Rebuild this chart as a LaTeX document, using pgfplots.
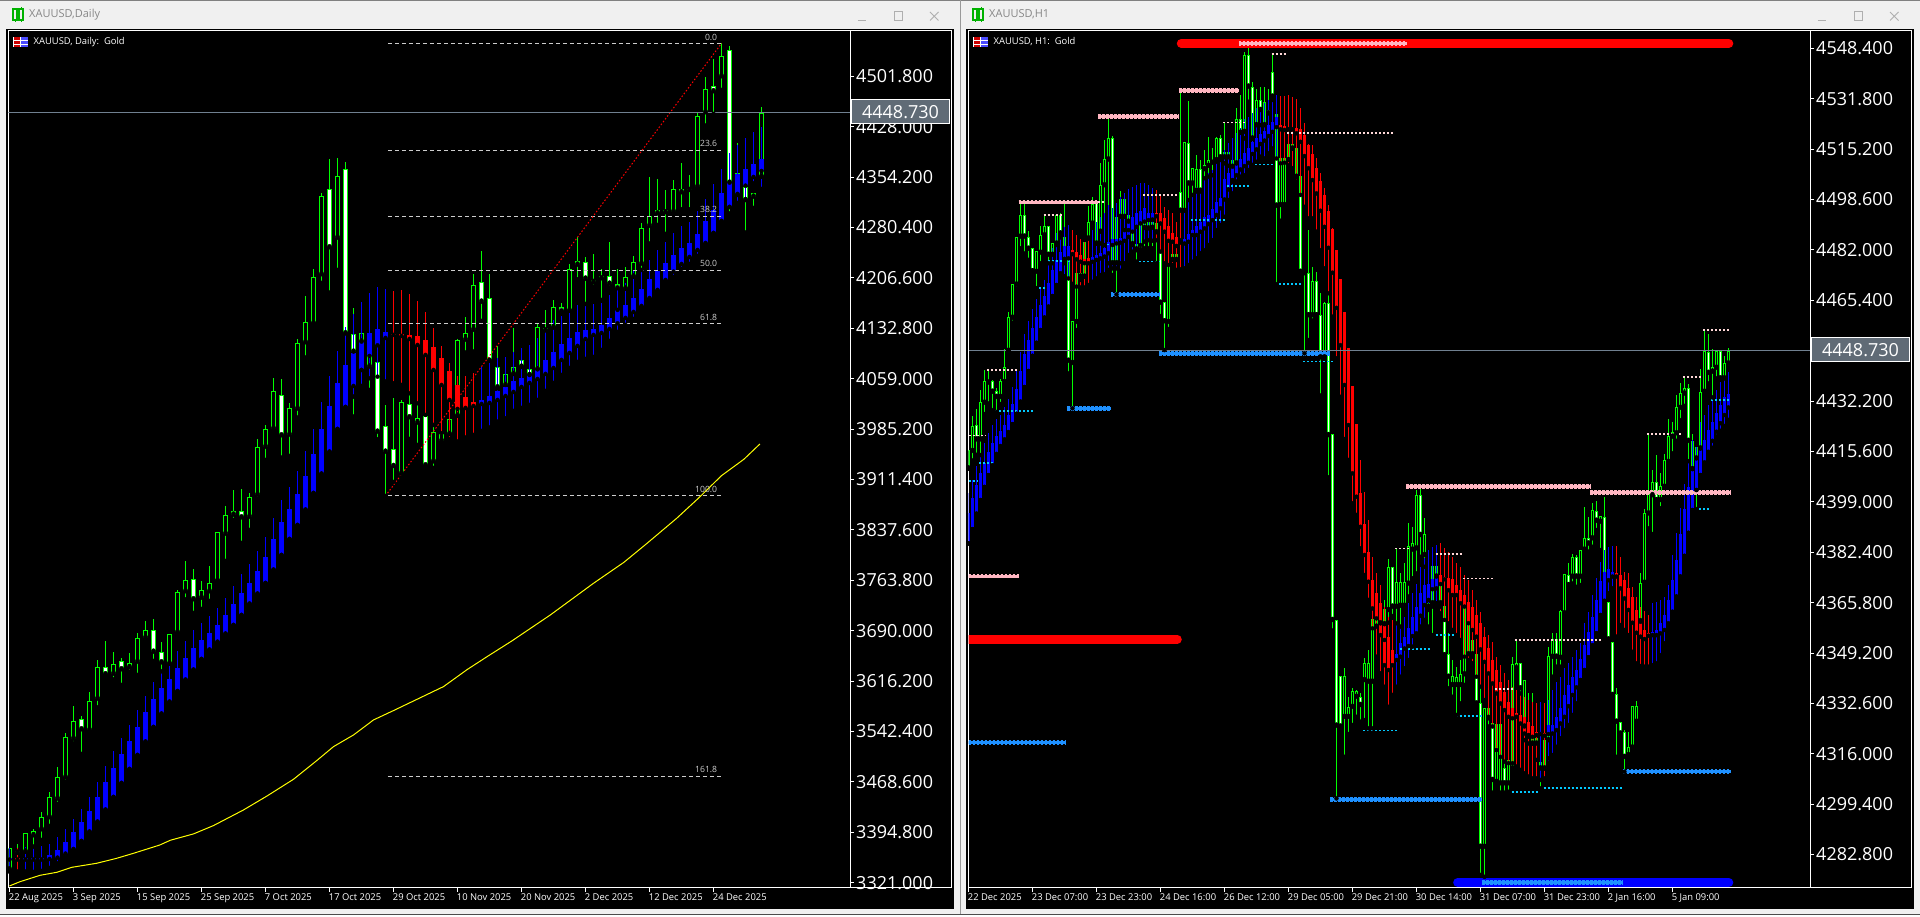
\documentclass[border=0pt]{standalone}
\usepackage{fontspec}
\setmainfont{Open Sans}
\usepackage{pgfplots}
\usepackage{pgfplotstable}
\pgfplotsset{compat=1.18}

\definecolor{mtgreen}{RGB}{0,255,0}
\definecolor{mtblue}{RGB}{0,0,255}
\definecolor{mtred}{RGB}{255,0,0}
\definecolor{mtyellow}{RGB}{255,255,0}
\definecolor{lvlpink}{RGB}{255,182,193}
\definecolor{lvlblue}{RGB}{30,144,255}
\definecolor{lvlcyan}{RGB}{0,200,255}
\definecolor{thinpink}{RGB}{255,215,215}
\definecolor{slate}{RGB}{112,128,144}
\definecolor{pricebox}{RGB}{96,107,118}
\definecolor{fibgrey}{RGB}{205,205,205}
\definecolor{chrome}{RGB}{240,240,240}
\definecolor{titlegrey}{RGB}{135,135,135}
\definecolor{btngrey}{RGB}{175,175,175}

% daily candles: high low bodytop bodybottom white
\pgfplotstableread{
h l t b w
3371.4 3339.6 3371.4 3340.6 0
3377.7 3365.0 3368.0 3365.0 0
3393.3 3366.5 3393.3 3366.5 0
3399.2 3373.8 3397.2 3390.4 0
3424.6 3383.6 3416.8 3399.2 0
3453.9 3404.1 3447.0 3416.8 0
3490.0 3436.3 3476.3 3444.1 0
3539.8 3468.5 3533.9 3475.3 0
3579.8 3525.1 3558.3 3532.0 0
3565.1 3509.5 3560.3 3545.6 1
3600.3 3538.8 3586.6 3544.6 0
3647.1 3577.8 3636.4 3590.5 0
3675.0 3625.2 3636.4 3626.2 1
3658.9 3618.8 3640.8 3627.1 0
3650.1 3610.5 3645.2 3633.5 1
3656.9 3629.6 3642.3 3636.4 0
3686.2 3625.2 3678.9 3644.7 0
3703.8 3674.0 3690.6 3679.8 0
3707.2 3645.7 3691.6 3659.3 1
3673.5 3630.5 3659.3 3643.7 1
3684.7 3641.8 3684.7 3641.8 0
3749.6 3682.3 3746.2 3687.7 0
3791.6 3736.0 3763.8 3747.7 0
3779.9 3716.0 3765.3 3736.0 1
3762.3 3721.8 3749.2 3738.4 0
3784.8 3733.5 3759.4 3747.7 0
3834.1 3763.3 3834.1 3763.3 0
3872.6 3792.1 3859.0 3832.1 0
3896.1 3852.1 3864.8 3860.0 0
3897.5 3818.5 3864.8 3856.0 1
3891.7 3837.5 3885.3 3857.0 0
3970.8 3882.9 3959.5 3889.2 0
3991.3 3940.0 3984.9 3959.5 0
4060.1 3984.0 4041.6 3985.9 0
4058.1 3943.4 4035.7 3976.1 1
4023.0 3945.9 4015.7 3977.1 0
4116.7 4002.0 4110.9 4015.2 0
4180.2 4089.9 4142.6 4112.3 0
4219.2 4140.1 4207.5 4140.1 0
4330.5 4199.2 4326.1 4211.9 0
4380.8 4185.0 4337.3 4251.4 1
4382.2 4218.2 4355.4 4265.6 0
4376.4 4125.5 4365.6 4125.5 1
4162.1 4003.5 4124.0 4098.7 1
4125.5 4071.8 4125.5 4113.3 0
4110.9 4042.5 4106.0 4076.7 0
4083.0 3970.3 4083.0 3981.5 1
4020.6 3887.3 3989.3 3952.2 1
4030.3 3907.8 3955.6 3931.2 1
4027.9 3914.6 4024.5 3920.5 0
4046.4 3970.8 4021.5 4002.5 1
4030.3 3962.0 4001.0 3994.7 0
4004.9 3929.3 4004.9 3932.2 1
3991.3 3928.3 3980.5 3938.0 0
3987.4 3964.4 3977.6 3968.3 0
3999.6 3978.1 3999.6 3978.1 0
4116.7 4004.9 4115.2 4004.9 0
4149.4 4097.2 4125.5 4116.2 0
4211.9 4098.7 4195.8 4130.9 0
4246.1 4143.6 4201.2 4171.9 1
4212.4 4085.5 4176.8 4085.5 1
4107.4 4045.0 4076.7 4046.4 1
4066.9 3997.6 4066.4 4049.8 0
4133.3 4066.0 4076.7 4066.0 0
4086.9 4076.7 4086.9 4076.7 1
4072.8 4064.5 4072.8 4064.5 1
4141.1 4072.8 4134.3 4072.8 0
4159.7 4129.9 4132.8 4129.9 1
4174.3 4133.8 4163.6 4134.3 0
4170.4 4157.2 4164.6 4157.7 1
4227.0 4158.7 4219.2 4158.7 0
4266.1 4204.6 4231.9 4226.0 0
4237.3 4168.4 4230.4 4205.6 1
4241.7 4193.8 4203.6 4200.7 1
4219.2 4174.3 4209.0 4206.0 0
4259.2 4191.9 4209.0 4198.2 1
4219.2 4159.7 4198.2 4191.4 1
4222.1 4190.9 4207.5 4190.9 0
4238.7 4208.5 4229.5 4208.5 0
4286.6 4218.2 4279.3 4227.5 0
4353.9 4256.8 4297.8 4283.2 0
4351.0 4284.1 4305.6 4301.2 0
4335.4 4271.0 4306.6 4302.7 1
4349.5 4302.2 4337.3 4303.7 0
4374.4 4307.1 4337.3 4332.0 1
4357.3 4307.1 4337.3 4335.4 1
4448.6 4338.8 4443.3 4340.3 0
4500.4 4429.6 4483.8 4449.1 0
4526.7 4446.7 4488.2 4479.9 1
4550.1 4481.8 4531.1 4501.8 0
4546.2 4301.2 4539.9 4346.1 1
4403.7 4315.9 4359.8 4328.1 0
4340.3 4272.9 4340.3 4320.7 1
4331.5 4309.0 4331.5 4325.6 0
4456.4 4354.9 4448.6 4354.9 0
}\dCandle

% daily smoothed bars: c=0 blue, c=1 red
\pgfplotstableread{
h l t b c
3371.4 3337.2 3356.7 3354.8 0
3371.4 3337.2 3356.7 3354.8 1
3372.8 3337.2 3356.7 3354.8 0
3373.8 3336.7 3356.7 3354.8 0
3374.8 3338.2 3357.2 3354.8 0
3377.7 3342.6 3361.1 3355.7 0
3387.5 3349.4 3368.9 3357.7 0
3399.2 3358.2 3380.2 3363.6 0
3413.8 3368.9 3394.8 3370.4 0
3428.5 3382.1 3409.4 3382.1 0
3446.0 3395.8 3425.5 3395.8 0
3468.5 3410.4 3446.0 3410.4 0
3491.9 3428.0 3468.5 3428.0 0
3513.4 3446.5 3489.0 3446.5 0
3532.4 3467.0 3509.5 3467.0 0
3551.5 3487.5 3528.0 3487.5 0
3573.9 3508.0 3548.5 3508.0 0
3594.4 3527.6 3571.0 3527.6 0
3614.9 3549.0 3589.5 3549.0 0
3631.5 3568.6 3605.7 3568.6 0
3644.2 3586.1 3618.8 3586.1 0
3659.8 3601.7 3634.9 3601.7 0
3674.5 3618.3 3649.6 3618.3 0
3691.1 3633.0 3664.2 3633.0 0
3701.3 3648.6 3675.9 3648.6 0
3711.6 3662.3 3686.2 3662.3 0
3723.3 3673.0 3697.9 3674.0 0
3737.9 3685.7 3712.5 3685.7 0
3755.5 3698.4 3728.7 3698.4 0
3773.1 3713.0 3744.8 3713.0 0
3787.7 3729.6 3759.4 3729.6 0
3806.7 3744.3 3777.0 3744.3 0
3826.8 3759.9 3797.5 3759.9 0
3854.6 3779.4 3823.8 3779.4 0
3881.4 3800.9 3849.2 3800.9 0
3900.5 3824.3 3867.8 3824.3 0
3923.4 3844.8 3890.2 3844.8 0
3953.2 3867.3 3916.6 3867.3 0
3985.4 3891.7 3948.8 3891.7 0
4025.0 3920.0 3984.9 3920.0 0
4063.0 3952.2 4019.1 3952.2 0
4099.6 3985.4 4052.3 3985.4 0
4135.3 4017.6 4079.1 4017.6 0
4153.8 4032.8 4096.2 4048.4 0
4171.4 4048.4 4113.8 4071.8 0
4184.1 4059.6 4125.5 4092.3 0
4192.9 4062.0 4131.4 4107.9 0
4189.9 4054.7 4127.5 4118.7 0
4187.5 4052.3 4124.5 4123.1 1
4189.0 4049.8 4124.5 4121.6 1
4183.1 4037.6 4122.6 4117.2 1
4172.8 4023.0 4121.6 4108.4 1
4156.7 4005.9 4115.7 4093.8 1
4133.3 3991.3 4105.5 4071.8 1
4107.0 3979.1 4089.4 4049.8 1
4081.6 3970.3 4070.3 4027.9 1
4063.0 3966.9 4049.8 4014.7 1
4063.0 3972.7 4032.3 4016.2 1
4066.9 3976.6 4025.0 4019.1 1
4075.7 3982.5 4027.9 4022.0 0
4086.5 3987.4 4033.7 4023.5 0
4088.9 3996.1 4041.1 4027.9 0
4090.4 4001.0 4046.9 4033.7 0
4098.2 4011.8 4055.2 4039.6 0
4104.0 4016.2 4060.1 4046.9 0
4108.4 4020.6 4064.5 4052.8 0
4118.7 4027.9 4072.8 4058.6 0
4130.4 4041.1 4086.5 4066.0 0
4145.0 4052.8 4098.2 4074.7 0
4150.9 4064.5 4109.9 4086.5 0
4159.7 4074.7 4118.7 4096.7 0
4167.0 4083.5 4127.5 4107.0 0
4168.4 4087.9 4130.4 4117.2 0
4168.4 4090.8 4131.9 4123.1 0
4169.9 4101.1 4137.7 4126.0 0
4181.6 4114.3 4148.0 4131.9 0
4194.8 4127.5 4159.7 4140.1 0
4198.7 4137.7 4167.0 4148.0 0
4216.8 4146.5 4177.2 4156.7 0
4218.2 4159.7 4190.4 4165.5 0
4232.9 4174.3 4205.1 4177.2 0
4247.5 4187.5 4216.8 4189.0 0
4259.2 4197.7 4228.5 4203.6 0
4271.9 4208.0 4240.2 4215.8 0
4282.7 4219.7 4250.5 4227.0 0
4288.5 4227.0 4257.8 4237.3 0
4304.6 4238.7 4271.0 4247.5 0
4321.7 4256.3 4290.0 4257.8 0
4344.2 4272.4 4306.1 4272.4 0
4366.1 4290.0 4331.0 4290.0 0
4389.6 4310.5 4347.1 4310.5 0
4401.3 4316.3 4358.8 4328.1 0
4411.5 4320.7 4366.1 4341.7 0
4420.3 4345.1 4373.5 4354.4 0
4427.6 4336.8 4380.8 4363.2 0
}\dSmooth

% H1 candles
\pgfplotstableread{
h l t b w
4416.1 4410.0 4416.1 4410.0 0
4427.3 4412.6 4424.0 4415.8 0
4429.6 4414.5 4424.2 4419.6 1
4435.8 4414.4 4431.8 4419.6 0
4442.4 4427.9 4438.7 4431.7 0
4442.2 4431.4 4438.7 4438.3 0
4439.1 4429.2 4438.7 4435.3 1
4436.4 4428.6 4435.4 4433.6 1
4439.3 4431.2 4438.7 4433.6 0
4449.2 4438.2 4443.5 4438.5 0
4461.4 4448.8 4459.8 4448.8 0
4470.6 4458.0 4470.6 4459.7 0
4486.4 4469.2 4486.4 4470.6 0
4497.1 4482.5 4493.4 4486.4 0
4497.1 4480.8 4493.4 4486.4 1
4488.2 4478.7 4486.4 4482.4 1
4482.5 4474.8 4482.5 4475.0 1
4481.5 4469.4 4481.5 4474.8 0
4489.9 4477.6 4486.8 4481.1 0
4493.5 4486.3 4489.9 4486.8 0
4489.9 4477.6 4489.9 4480.4 1
4484.1 4477.6 4484.1 4480.4 0
4493.8 4483.6 4493.5 4484.1 0
4494.0 4486.1 4493.5 4487.4 1
4497.1 4473.2 4486.1 4478.7 0
4479.2 4441.3 4478.7 4445.5 1
4458.5 4429.8 4458.5 4444.8 0
4474.3 4455.6 4474.3 4458.3 0
4474.3 4472.1 4474.3 4473.2 0
4484.7 4473.2 4484.7 4473.2 0
4496.4 4485.8 4491.1 4485.8 0
4499.5 4490.7 4497.1 4490.7 0
4497.8 4484.1 4497.8 4484.1 1
4510.5 4484.1 4503.3 4488.0 0
4518.2 4483.6 4511.8 4503.3 0
4525.0 4477.6 4518.7 4511.8 0
4519.5 4473.7 4518.7 4477.6 1
4492.9 4467.3 4492.9 4477.6 0
4501.3 4477.6 4498.9 4492.9 0
4500.8 4488.5 4498.9 4492.9 1
4494.0 4488.5 4493.5 4491.3 0
4494.0 4483.6 4491.3 4483.9 1
4491.8 4478.1 4483.9 4481.9 1
4494.9 4481.7 4491.8 4481.9 0
4494.6 4482.5 4491.8 4489.2 0
4491.8 4482.5 4491.3 4489.1 0
4491.8 4482.5 4491.2 4489.3 0
4490.7 4477.6 4490.7 4487.8 0
4484.1 4460.2 4481.4 4464.6 1
4464.9 4449.0 4464.9 4458.5 1
4477.0 4455.9 4477.0 4458.3 0
4480.6 4477.0 4480.6 4478.7 0
4480.6 4478.7 4480.6 4478.7 0
4533.6 4485.2 4501.2 4494.9 1
4517.5 4494.9 4517.5 4494.9 0
4531.0 4498.4 4517.3 4503.9 1
4508.9 4500.1 4508.9 4503.9 0
4513.2 4501.2 4508.5 4501.5 0
4511.6 4501.2 4508.7 4501.5 1
4514.9 4505.6 4510.0 4508.6 0
4519.1 4506.1 4511.5 4509.7 0
4515.4 4506.6 4511.5 4510.7 1
4519.3 4511.0 4518.7 4511.6 0
4519.8 4511.6 4518.8 4512.5 1
4523.7 4510.5 4514.2 4512.5 0
4514.2 4509.7 4514.2 4512.5 0
4512.7 4505.0 4511.6 4509.4 0
4528.6 4510.5 4525.0 4510.5 0
4533.0 4520.6 4525.0 4520.6 1
4547.3 4518.7 4546.1 4520.9 0
4548.6 4530.8 4546.1 4535.8 1
4537.3 4518.7 4535.8 4518.7 1
4534.9 4523.1 4531.4 4523.1 0
4535.5 4523.1 4531.4 4528.1 1
4535.5 4523.1 4530.8 4523.1 0
4534.9 4527.0 4528.1 4527.0 0
4546.4 4531.4 4540.5 4532.5 1
4526.6 4470.7 4526.6 4496.6 1
4512.1 4491.6 4512.1 4496.8 0
4512.1 4496.8 4512.1 4496.8 0
4516.8 4508.9 4516.8 4511.6 0
4516.8 4515.4 4516.8 4515.4 0
4515.4 4506.1 4515.4 4506.1 1
4506.3 4474.8 4506.3 4474.8 1
4474.8 4447.9 4474.8 4474.3 0
4488.5 4452.3 4474.5 4460.5 1
4476.5 4458.7 4471.9 4460.5 0
4474.8 4460.5 4471.9 4460.5 1
4467.7 4434.0 4460.5 4446.6 1
4464.9 4446.3 4464.6 4446.6 0
4467.7 4407.1 4464.4 4421.0 1
4421.2 4356.6 4421.2 4360.1 1
4360.0 4301.3 4360.0 4325.3 1
4341.5 4323.8 4341.5 4325.0 1
4344.2 4315.0 4341.5 4328.2 0
4334.6 4322.5 4331.3 4328.2 0
4337.6 4325.5 4336.6 4331.5 0
4337.0 4328.2 4336.6 4334.8 0
4335.9 4326.6 4334.8 4332.1 1
4347.4 4327.1 4345.8 4340.3 0
4350.2 4324.4 4345.8 4339.8 0
4360.4 4324.4 4360.4 4339.8 0
4368.9 4346.9 4363.4 4357.9 0
4368.9 4359.0 4363.6 4359.0 0
4366.7 4353.5 4363.6 4358.7 0
4380.3 4359.2 4377.4 4363.4 0
4377.4 4361.4 4377.4 4364.5 1
4383.7 4359.0 4372.5 4364.5 0
4375.4 4357.9 4372.5 4364.8 0
4378.7 4364.5 4372.5 4364.8 0
4391.9 4367.8 4384.6 4372.1 0
4390.8 4373.8 4385.3 4383.3 0
4402.9 4375.4 4401.2 4383.7 0
4403.4 4380.9 4401.2 4388.1 1
4393.6 4377.6 4388.4 4381.5 0
4377.9 4357.9 4365.6 4364.5 0
4377.9 4355.1 4377.9 4365.6 0
4377.9 4365.6 4377.9 4374.4 0
4374.1 4364.5 4373.8 4365.6 0
4370.5 4348.5 4364.7 4348.5 1
4355.7 4337.6 4348.8 4341.4 1
4346.9 4334.8 4341.6 4338.7 0
4344.7 4328.8 4341.2 4338.7 0
4346.9 4332.6 4342.2 4338.7 0
4363.9 4338.7 4363.9 4342.2 0
4365.6 4346.9 4363.9 4348.8 1
4362.3 4348.0 4353.5 4348.8 0
4357.9 4331.5 4348.8 4332.6 1
4338.7 4276.1 4332.9 4285.4 1
4331.0 4275.5 4331.0 4285.4 0
4331.5 4325.0 4331.0 4327.7 0
4331.5 4303.2 4326.0 4307.4 1
4325.7 4306.8 4325.7 4306.8 0
4325.7 4303.2 4325.7 4306.3 0
4316.7 4303.2 4311.2 4306.3 1
4316.7 4303.5 4314.0 4306.3 0
4348.0 4311.2 4345.6 4311.2 0
4353.5 4344.2 4345.8 4344.2 0
4346.0 4335.9 4346.0 4337.6 1
4340.3 4320.5 4340.3 4325.0 0
4335.9 4319.4 4323.3 4321.6 0
4335.9 4319.4 4322.7 4319.4 0
4322.7 4314.0 4321.1 4319.4 0
4313.4 4304.6 4313.4 4311.2 0
4320.5 4311.2 4320.5 4311.2 0
4351.3 4314.5 4348.3 4320.5 0
4355.7 4341.4 4353.7 4348.0 0
4355.9 4344.7 4353.7 4348.0 1
4363.4 4344.7 4363.2 4347.7 0
4375.2 4361.4 4375.2 4362.3 0
4378.7 4371.6 4374.9 4371.6 1
4381.8 4372.1 4380.7 4374.4 0
4381.5 4371.0 4380.7 4374.4 1
4383.3 4371.6 4383.1 4374.4 0
4397.4 4383.1 4387.0 4383.3 0
4394.1 4382.6 4387.0 4385.3 1
4398.7 4384.2 4396.3 4387.0 0
4399.4 4389.7 4396.1 4392.8 1
4394.3 4383.1 4394.3 4392.5 0
4400.7 4366.1 4394.1 4366.1 1
4366.1 4353.5 4366.1 4353.7 1
4352.9 4335.1 4352.9 4335.4 1
4337.6 4315.0 4335.6 4326.6 1
4326.6 4322.7 4326.6 4322.7 1
4323.8 4310.1 4323.1 4315.0 1
4323.3 4315.6 4318.1 4315.6 0
4331.7 4318.1 4331.7 4318.1 0
4333.5 4326.6 4331.7 4326.6 0
4375.7 4359.5 4372.4 4359.7 0
4396.5 4372.4 4395.2 4372.4 0
4421.3 4390.3 4401.6 4395.2 0
4409.5 4388.4 4405.4 4401.2 0
4414.4 4399.1 4405.4 4399.6 1
4408.4 4396.9 4404.2 4399.6 0
4414.7 4404.0 4412.8 4404.0 0
4426.2 4411.1 4420.7 4412.2 0
4425.4 4415.0 4421.9 4420.5 1
4434.2 4419.1 4430.1 4421.6 0
4438.0 4425.9 4434.7 4430.0 0
4440.2 4430.6 4436.5 4434.7 0
4437.8 4412.4 4436.4 4419.1 1
4421.3 4409.8 4419.1 4409.8 0
4416.9 4396.6 4416.9 4413.3 0
4442.6 4416.6 4435.1 4416.6 0
4455.6 4435.3 4448.8 4435.3 0
4454.3 4438.0 4448.2 4441.5 1
4449.2 4433.4 4443.5 4441.9 0
4448.8 4439.7 4448.8 4443.2 0
4449.0 4439.7 4448.8 4439.7 1
4447.0 4439.7 4444.6 4439.7 0
4449.6 4443.3 4448.8 4444.6 0
}\hCandle

% H1 smoothed bars
\pgfplotstableread{
h l t b c
4401.8 4385.3 4395.2 4385.3 0
4406.2 4390.0 4400.1 4390.0 0
4410.8 4395.1 4404.4 4395.1 0
4414.4 4399.6 4408.6 4399.6 0
4418.3 4403.9 4411.9 4403.9 0
4421.6 4407.8 4415.4 4407.8 0
4424.3 4411.0 4418.3 4411.0 0
4426.2 4414.1 4420.7 4414.8 0
4427.6 4416.3 4422.3 4417.4 0
4430.3 4418.3 4424.3 4419.6 0
4432.9 4421.3 4427.6 4422.0 0
4436.7 4424.6 4431.3 4424.6 0
4442.2 4428.0 4436.2 4428.0 0
4448.4 4432.0 4442.2 4432.0 0
4454.3 4436.8 4447.7 4436.8 0
4458.5 4442.1 4452.3 4442.1 0
4462.5 4447.1 4456.3 4447.1 0
4465.7 4451.4 4459.8 4451.4 0
4469.6 4455.6 4463.8 4455.6 0
4472.1 4459.7 4466.8 4459.7 0
4477.6 4463.3 4471.0 4463.3 0
4482.5 4466.8 4475.4 4466.8 0
4487.4 4470.4 4478.7 4470.4 0
4488.5 4473.7 4481.4 4474.3 0
4489.6 4473.2 4483.3 4477.6 0
4490.2 4472.6 4483.3 4479.2 0
4488.5 4470.8 4482.0 4480.6 1
4486.9 4469.9 4481.4 4478.9 1
4485.5 4469.6 4480.3 4478.1 1
4484.7 4469.6 4478.9 4477.6 1
4485.8 4470.4 4479.2 4477.6 1
4488.5 4471.5 4479.8 4478.1 0
4491.3 4472.6 4480.3 4478.7 0
4492.9 4473.7 4481.1 4479.2 0
4494.0 4474.0 4482.5 4479.8 0
4496.8 4475.4 4484.7 4480.9 0
4495.7 4475.9 4485.5 4483.6 0
4497.3 4475.9 4485.5 4484.1 0
4499.5 4475.1 4485.8 4484.4 0
4500.6 4477.6 4488.3 4485.0 0
4501.9 4480.3 4491.3 4486.3 0
4502.8 4481.4 4492.9 4488.0 0
4503.4 4482.5 4494.0 4489.6 0
4503.9 4483.6 4494.9 4490.7 0
4503.9 4484.7 4495.7 4491.3 0
4503.4 4485.2 4494.0 4491.8 0
4502.3 4485.0 4494.0 4492.0 0
4501.7 4485.2 4494.0 4493.1 1
4500.1 4481.4 4494.0 4490.7 1
4496.2 4477.6 4492.4 4488.0 1
4495.1 4477.0 4489.9 4485.0 1
4494.0 4476.5 4487.4 4484.7 1
4491.3 4475.4 4486.1 4483.3 1
4494.0 4475.6 4485.0 4484.4 1
4494.9 4475.9 4485.5 4484.1 0
4497.9 4477.0 4487.2 4484.7 0
4500.4 4478.1 4488.5 4486.9 0
4502.6 4479.2 4489.9 4486.9 0
4500.8 4480.9 4491.3 4488.0 0
4506.1 4481.9 4492.7 4489.1 0
4507.2 4483.6 4493.5 4490.5 0
4508.3 4485.2 4495.3 4491.8 0
4510.5 4488.5 4497.9 4493.5 0
4512.1 4490.2 4499.0 4495.7 0
4514.9 4492.9 4505.2 4498.6 0
4517.1 4498.4 4507.4 4501.9 0
4518.7 4500.6 4509.6 4504.5 0
4520.4 4504.5 4510.7 4506.6 0
4522.0 4506.1 4511.8 4508.5 0
4525.0 4506.6 4513.8 4509.6 0
4525.9 4508.3 4515.4 4510.7 0
4527.0 4510.0 4517.6 4513.6 0
4528.6 4511.0 4518.7 4515.1 0
4529.2 4512.7 4520.2 4516.9 0
4530.3 4512.1 4521.3 4518.0 0
4531.4 4513.8 4523.1 4519.5 0
4532.7 4515.4 4524.2 4520.9 0
4533.0 4512.1 4525.9 4522.4 0
4532.7 4510.5 4523.1 4521.7 1
4532.7 4510.7 4522.8 4521.5 1
4532.9 4509.9 4522.1 4521.7 1
4532.2 4508.9 4522.0 4521.7 1
4531.6 4504.5 4522.0 4520.4 1
4528.6 4500.1 4521.7 4517.6 1
4523.7 4496.2 4519.8 4512.9 1
4516.9 4492.4 4516.5 4508.9 1
4516.5 4492.4 4513.6 4505.0 1
4512.1 4488.0 4508.9 4500.6 1
4507.2 4481.9 4504.7 4494.9 1
4502.3 4475.9 4500.1 4489.6 1
4496.8 4467.7 4494.8 4482.7 1
4489.1 4460.0 4488.9 4474.5 1
4482.0 4446.3 4482.0 4462.9 1
4472.3 4433.6 4472.3 4450.6 1
4461.4 4419.7 4461.4 4437.5 1
4449.6 4412.8 4449.6 4424.3 1
4437.1 4398.5 4437.1 4408.4 1
4424.6 4394.7 4424.6 4400.7 1
4412.8 4383.7 4401.8 4390.8 1
4402.3 4374.9 4391.7 4381.5 1
4393.0 4366.7 4382.4 4372.7 1
4380.9 4357.3 4373.2 4363.9 1
4375.4 4348.0 4368.9 4360.6 1
4371.6 4342.5 4365.6 4355.1 1
4364.5 4338.1 4358.4 4345.2 1
4361.2 4331.5 4354.6 4343.6 1
4360.1 4335.4 4350.2 4345.2 1
4358.4 4338.1 4348.8 4346.9 0
4357.9 4341.4 4352.4 4348.0 0
4361.2 4344.2 4354.6 4350.7 0
4365.6 4346.9 4357.3 4351.5 0
4368.9 4351.3 4361.2 4354.8 0
4372.1 4354.6 4364.5 4355.7 0
4377.6 4357.9 4368.9 4361.5 0
4380.4 4360.1 4371.6 4365.0 0
4383.1 4363.4 4372.1 4366.7 0
4384.2 4364.5 4373.5 4370.2 0
4384.8 4365.6 4374.6 4370.5 0
4385.3 4362.3 4374.9 4371.9 1
4383.7 4360.1 4374.4 4373.5 1
4382.6 4359.0 4373.8 4369.9 1
4380.9 4356.8 4373.5 4368.3 1
4378.7 4355.1 4371.6 4368.3 1
4377.6 4353.5 4369.9 4365.6 1
4374.9 4348.0 4368.3 4364.5 1
4373.2 4346.9 4366.1 4359.0 1
4369.9 4345.8 4364.5 4356.8 1
4366.7 4341.4 4361.7 4354.6 1
4362.8 4338.1 4359.0 4350.4 1
4357.9 4333.7 4354.6 4346.3 1
4355.1 4328.2 4350.7 4342.5 1
4352.9 4325.0 4346.9 4339.2 1
4348.0 4317.2 4343.6 4335.9 1
4345.2 4315.0 4339.8 4332.6 1
4342.5 4313.4 4336.5 4330.4 1
4340.3 4312.9 4333.2 4328.2 1
4338.1 4312.9 4331.0 4327.7 1
4337.0 4311.8 4329.6 4328.2 1
4335.9 4310.7 4328.8 4326.0 1
4334.8 4309.6 4328.0 4322.7 1
4333.7 4308.5 4326.6 4322.2 1
4333.2 4307.9 4325.0 4321.6 1
4332.6 4307.9 4323.3 4322.2 1
4333.2 4307.4 4323.3 4322.5 0
4332.6 4307.9 4322.7 4322.0 1
4333.7 4312.9 4325.5 4322.5 0
4337.0 4315.6 4325.5 4322.7 0
4339.8 4318.3 4328.2 4323.8 0
4341.4 4321.1 4331.0 4326.0 0
4344.2 4323.8 4335.4 4328.2 0
4345.8 4325.5 4338.7 4331.7 0
4348.0 4328.8 4341.4 4335.4 0
4350.2 4332.6 4343.6 4337.9 0
4352.4 4340.3 4347.2 4340.3 0
4359.0 4343.6 4351.8 4343.6 0
4362.8 4347.8 4356.2 4347.8 0
4368.3 4351.3 4361.2 4351.8 0
4373.8 4355.7 4366.7 4355.7 0
4379.3 4361.7 4373.0 4361.7 0
4383.1 4366.1 4376.0 4366.1 0
4384.0 4368.9 4376.8 4373.2 0
4384.4 4370.5 4376.0 4374.4 0
4384.4 4354.6 4375.4 4374.4 1
4380.9 4358.4 4374.9 4370.5 1
4376.0 4356.8 4373.2 4367.2 1
4375.4 4355.1 4370.5 4363.4 1
4371.0 4349.6 4367.8 4359.2 1
4367.8 4345.8 4363.4 4355.9 1
4364.5 4344.9 4359.5 4354.6 1
4363.2 4344.7 4356.8 4353.8 1
4361.7 4344.7 4355.9 4354.9 1
4365.6 4345.2 4356.2 4355.1 0
4366.1 4345.8 4356.8 4355.1 0
4366.7 4348.5 4359.0 4355.7 0
4367.8 4352.4 4361.7 4356.8 0
4371.6 4358.4 4366.7 4359.0 0
4381.5 4362.8 4373.2 4362.8 0
4388.6 4367.8 4379.8 4367.8 0
4397.0 4374.4 4388.4 4374.4 0
4404.9 4381.2 4396.6 4381.2 0
4412.2 4388.8 4404.0 4388.8 0
4419.4 4396.3 4409.8 4396.3 0
4416.9 4402.9 4413.3 4402.9 0
4425.4 4407.8 4416.6 4407.8 0
4427.6 4410.8 4419.4 4412.0 0
4430.9 4414.4 4422.7 4415.5 0
4433.1 4416.8 4425.4 4419.1 0
4436.0 4420.5 4428.4 4422.1 0
4438.6 4422.4 4430.9 4424.9 0
4439.7 4424.0 4433.6 4427.6 0
4441.9 4426.0 4434.5 4430.1 0
}\hSmooth

% #1 filter keys, #2 table, #3 base, #4 height, #5 colour, #6 width
\newcommand{\ebar}[6]{\addplot[only marks,mark=none,#1,
    error bars/y dir=plus,error bars/y explicit,error bars/error mark=none,
    error bars/error bar style={#5,line width=#6,solid}]
  table[x expr=\coordindex,y expr={#3},y error plus expr={#4}]{#2};}
% horizontal level: style, from, to, price
\newcommand{\lvl}[4]{\addplot[#1] coordinates {(#2,#4) (#3,#4)};}

\newcommand{\candles}[5]{% candle table, smooth table, inset, body width, inner width
  \ebar{}{#1}{\thisrow{l}}{\thisrow{h}-\thisrow{l}}{mtgreen}{1pt}
  \ebar{}{#1}{\thisrow{b}}{\thisrow{t}-\thisrow{b}}{mtgreen}{#4}
  \ebar{restrict expr to domain={\thisrow{w}}{-0.5:0.5}}{#1}{\thisrow{b}+#3}{max(\thisrow{t}-\thisrow{b}-2*#3,0)}{black}{#5}
  \ebar{restrict expr to domain={\thisrow{w}}{0.5:1.5}}{#1}{\thisrow{b}+#3}{max(\thisrow{t}-\thisrow{b}-2*#3,0)}{white}{#5}
  \ebar{restrict expr to domain={\thisrow{c}}{-0.5:0.5}}{#2}{\thisrow{l}}{\thisrow{h}-\thisrow{l}}{mtblue}{1pt}
  \ebar{restrict expr to domain={\thisrow{c}}{0.5:1.5}}{#2}{\thisrow{l}}{\thisrow{h}-\thisrow{l}}{mtred}{1pt}
  \ebar{restrict expr to domain={\thisrow{c}}{-0.5:0.5}}{#2}{\thisrow{b}}{\thisrow{t}-\thisrow{b}}{mtblue}{#4}
  \ebar{restrict expr to domain={\thisrow{c}}{0.5:1.5}}{#2}{\thisrow{b}}{\thisrow{t}-\thisrow{b}}{mtred}{#4}
}

\pgfplotsset{mtaxis/.style={
    scale only axis,width=841.5pt,height=857pt,anchor=south west,
    axis line style={white,line width=1pt},
    tick style={white,line width=1pt},
    major tick length=4pt,tick align=outside,
    xtick pos=bottom,ytick pos=right,
    scaled y ticks=false,
    ticklabel style={white},
    xticklabel style={font=\fontsize{9.4}{11}\selectfont,anchor=north west,inner sep=0pt,xshift=-0.8pt,yshift=-1.5pt},
    yticklabel style={font=\fontsize{18}{20}\selectfont,anchor=west,inner sep=0pt,xshift=2pt,
      /pgf/number format/.cd,fixed,fixed zerofill,precision=3,1000 sep={},assume math mode=true},
  },
  pinkdots/.style={lvlpink,line width=3pt,line cap=butt,postaction={draw,lvlpink,line width=4.5pt,dash pattern=on 2.6pt off 1.4pt}},
  bluedots/.style={lvlblue,line width=3pt,line cap=butt,postaction={draw,lvlblue,line width=4.5pt,dash pattern=on 2.6pt off 1.4pt}},
  thinup/.style={thinpink,line width=1.5pt,dash pattern=on 2pt off 2pt},
  thindn/.style={lvlcyan,line width=1.5pt,dash pattern=on 2pt off 2pt},
  fib/.style={fibgrey,line width=1pt,dash pattern=on 4pt off 3pt},
  thickline/.style={line width=9pt,line cap=round},
}
\tikzset{fibtext/.style={fibgrey,font=\fontsize{8.6}{10}\selectfont,anchor=south east,inner sep=1pt,yshift=2pt}}

\newcommand{\windowchrome}[2]{% left edge, title
  \fill[chrome] (#1,0) rectangle ++(960,917);
  \fill[black] (#1+6,8) rectangle ++(948,880);
  \draw[white,line width=1pt] (#1+850,886) -- (#1+951,886) -- (#1+951,29) -- (#1+850,29);
  % title-bar candles icon
  \draw[green!70!black,line width=1pt] (#1+15,905) -- (#1+15,895) (#1+21,910) -- (#1+21,895);
  \draw[green!70!black,line width=1.4pt,fill=chrome] (#1+13,897) rectangle (#1+17,908) (#1+19,897) rectangle (#1+23,908);
  \node[titlegrey,anchor=west,inner sep=0pt,font=\fontsize{11}{13}\selectfont] at (#1+29,902.5) {#2};
  % window buttons
  \draw[btngrey,line width=1pt] (#1+857.5,896.5) -- (#1+866,896.5);
  \draw[btngrey,line width=1pt] (#1+894,896.5) rectangle (#1+902.5,905);
  \draw[btngrey,line width=1pt] (#1+930,896.5) -- (#1+938.5,905) (#1+930,905) -- (#1+938.5,896.5);
  % symbol flag and name
  \fill[white] (#1+13,869.5) rectangle (#1+28,880);
  \fill[red!80!black] (#1+13.5,870) rectangle (#1+20,879.5);
  \fill[blue!70!white] (#1+21,870) rectangle (#1+27.5,879.5);
  \draw[white,line width=0.8pt] (#1+13,873) -- (#1+28,873) (#1+13,876.5) -- (#1+28,876.5);
}
\newcommand{\pricetag}[2]{% left edge, height
  \node[draw=white,line width=1pt,fill=pricebox,text=white,inner sep=0pt,minimum width=98pt,minimum height=24pt,
    anchor=west,font=\fontsize{18}{20}\selectfont] at (#1,#2) {4448.730};
}

\begin{document}
\begin{tikzpicture}[x=1pt,y=1pt]
\useasboundingbox (0,0) rectangle (1920,917);
\windowchrome{0}{XAUUSD,Daily}
\windowchrome{960}{XAUUSD,H1}
\draw[gray,line width=1pt] (0,916.5) -- (1920,916.5);
\draw[black!70,line width=1pt] (0,2.5) -- (1920,2.5);
\fill[white] (0,0) rectangle (1920,2);
\draw[black!40,line width=0.8pt] (960,3) -- (960,917);

\begin{axis}[mtaxis,at={(8.5pt,29pt)},
    xmin=-0.125,xmax=105.06,ymin=3313.2,ymax=4568.1,
    xtick={0,8,...,88},
    xticklabels={22 Aug 2025,3 Sep 2025,15 Sep 2025,25 Sep 2025,7 Oct 2025,17 Oct 2025,29 Oct 2025,10 Nov 2025,20 Nov 2025,2 Dec 2025,12 Dec 2025,24 Dec 2025},
    ytick={3321,3394.8,3468.6,3542.4,3616.2,3690,3763.8,3837.6,3911.4,3985.2,4059,4132.8,4206.6,4280.4,4354.2,4428,4501.8},
  ]
\candles{\dCandle}{\dSmooth}{1.46}{5pt}{3pt}
\addplot[mtyellow,line width=1pt] coordinates {
  (0,3316.2) (1.33,3322.5) (3.83,3331.8) (5.92,3336.2) (7.8,3343.5) (10.9,3349.4) (13.4,3356.7) (15.5,3364)
  (18.8,3376.2) (20.1,3383.1) (23,3392.4) (25.5,3404.6) (29.25,3427.5) (32.2,3448) (35.5,3472.4) (38.4,3499.7)
  (40.5,3520.2) (43,3537.3) (45.5,3559.3) (48,3573) (54.25,3608.1) (57.2,3633) (59.7,3652) (62.8,3675)
  (67.6,3713) (73,3759.4) (76.8,3790.1) (79.7,3818) (83.4,3854.6) (86.1,3883.8) (89,3917) (91.8,3941) (93.8,3963.4)};
\lvl{fib}{47.3}{88.9}{4550}
\lvl{fib}{47.3}{88.9}{4393.5}
\lvl{fib}{47.3}{88.9}{4296.8}
\lvl{fib}{47.3}{88.9}{4217.8}
\lvl{fib}{47.3}{88.9}{4140}
\lvl{fib}{47.3}{88.9}{3887.3}
\lvl{fib}{47.3}{88.9}{3476.8}
\addplot[mtred,line width=1pt,dash pattern=on 1.5pt off 2pt] coordinates {(47,3887.3) (89,4550)};
\lvl{slate,line width=1pt}{-0.125}{105.06}{4448.73}
\node[fibtext] at (axis cs:88.6,4550) {0.0};
\node[fibtext] at (axis cs:88.6,4393.5) {23.6};
\node[fibtext] at (axis cs:88.6,4296.8) {38.2};
\node[fibtext] at (axis cs:88.6,4217.8) {50.0};
\node[fibtext] at (axis cs:88.6,4140) {61.8};
\node[fibtext] at (axis cs:88.6,3887.3) {100.0};
\node[fibtext] at (axis cs:88.6,3476.8) {161.8};
\end{axis}

\begin{axis}[mtaxis,at={(968.5pt,29pt)},
    xmin=0,xmax=210.4,ymin=4271.8,ymax=4554.1,
    xtick={0,16,...,176},
    xticklabels={22 Dec 2025,23 Dec 07:00,23 Dec 23:00,24 Dec 16:00,26 Dec 12:00,29 Dec 05:00,29 Dec 21:00,30 Dec 14:00,31 Dec 07:00,31 Dec 23:00,2 Jan 16:00,5 Jan 09:00},
    ytick={4282.8,4299.4,4316,4332.6,4349.2,4365.8,4382.4,4399,4415.6,4432.2,4448.8,4465.4,4482,4498.6,4515.2,4531.8,4548.4},
  ]
\candles{\hCandle}{\hSmooth}{0.33}{3pt}{1pt}
\lvl{slate,line width=1pt}{0}{210.4}{4448.73}
% thick levels
\lvl{thickline,mtred}{53.2}{190.1}{4550}
\lvl{thickline,mtred}{-2}{52.2}{4353.7}
\lvl{thickline,mtblue}{122.3}{190.1}{4273.6}
% pink levels
\lvl{pinkdots}{12.5}{32.5}{4497.7}
\lvl{pinkdots}{32.5}{52.7}{4526}
\lvl{pinkdots}{52.7}{67.6}{4534.5}
\lvl{pinkdots}{67.6}{109.6}{4550}
\lvl{pinkdots}{-1}{12.5}{4374.5}
\lvl{pinkdots}{109.4}{155.5}{4404.1}
\lvl{pinkdots}{155.5}{190.6}{4402.1}
% blue levels
\lvl{bluedots}{24.6}{35.6}{4429.8}
\lvl{bluedots}{35.6}{47.7}{4467.3}
\lvl{bluedots}{47.7}{90.4}{4447.9}
\lvl{bluedots}{-1}{24.4}{4319.8}
\lvl{bluedots}{90.5}{128.4}{4301}
\lvl{bluedots}{163.6}{190.6}{4310.2}
\lvl{bluedots}{128.5}{163.7}{4273.6}
% thin upper levels
\lvl{thinup}{18.75}{23.3}{4493.5}
\lvl{thinup}{32.5}{34.3}{4497.8}
\lvl{thinup}{4.7}{12.5}{4442.5}
\lvl{thinup}{43.75}{52.5}{4500.1}
\lvl{thinup}{63.75}{69.2}{4523.9}
\lvl{thinup}{75.8}{79.4}{4546.6}
\lvl{thinup}{79.75}{106.4}{4520.5}
\lvl{thinup}{0.2}{4.4}{4420.8}
\lvl{thinup}{106.7}{112.3}{4383.6}
\lvl{thinup}{116.8}{123.3}{4381.8}
\lvl{thinup}{123.6}{131.3}{4373.7}
\lvl{thinup}{136.6}{158.5}{4353.5}
\lvl{thinup}{131.7}{136.3}{4337.3}
\lvl{thinup}{169.75}{178.3}{4421.3}
\lvl{thinup}{178.75}{183.3}{4440.2}
\lvl{thinup}{183.75}{190.4}{4455.6}
% thin lower levels
\lvl{thindn}{16.7}{19.4}{4469.5}
\lvl{thindn}{19.75}{25.25}{4478.3}
\lvl{thindn}{31.7}{36.4}{4483.7}
\lvl{thindn}{41.7}{47.9}{4478.1}
\lvl{thindn}{55.75}{64.3}{4491.8}
\lvl{thindn}{64.75}{70.4}{4503.1}
\lvl{thindn}{70.7}{76.4}{4510.1}
\lvl{thindn}{76.75}{83.3}{4470.8}
\lvl{thindn}{83.75}{91.25}{4445.2}
\lvl{thindn}{6.7}{16.4}{4429}
\lvl{thindn}{2.7}{6.4}{4411.8}
\lvl{thindn}{0.2}{2.4}{4405.9}
\lvl{thindn}{98.7}{107.3}{4323.6}
\lvl{thindn}{107.8}{115.3}{4350.6}
\lvl{thindn}{115.8}{121.4}{4355.2}
\lvl{thindn}{121.8}{128.4}{4328.5}
\lvl{thindn}{134.8}{142.3}{4303.5}
\lvl{thindn}{142.8}{163.4}{4304.8}
\lvl{thindn}{181.7}{185.4}{4396.7}
\lvl{thindn}{185.7}{190.4}{4432.6}
\end{axis}

\node[white,anchor=west,inner sep=0pt,font=\fontsize{9.4}{11}\selectfont] at (33.5,875) {XAUUSD, Daily:\ \ Gold};
\node[white,anchor=west,inner sep=0pt,font=\fontsize{9.4}{11}\selectfont] at (993.5,875) {XAUUSD, H1:\ \ Gold};
\pricetag{851}{805}
\pricetag{1811}{567}
\end{tikzpicture}
\end{document}
